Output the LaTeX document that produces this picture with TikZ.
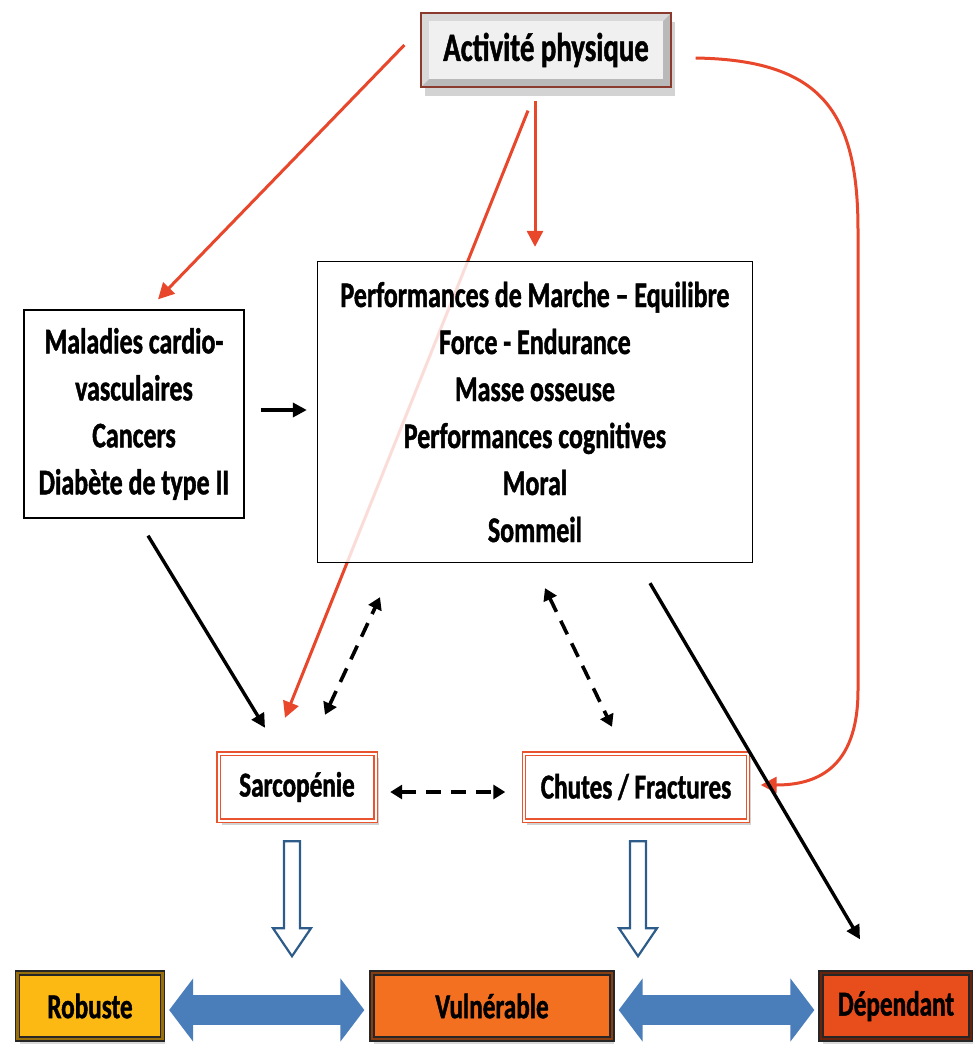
\documentclass[tikz,border=0pt]{standalone}
\usepackage{fontspec}
\setmainfont{Carlito}[FakeStretch=0.72,BoldFeatures={FakeBold=1.2}]
\usetikzlibrary{arrows.meta,calc,shadows,backgrounds}

\definecolor{actred}{HTML}{E8472B}
\definecolor{actborder}{HTML}{8B3A2E}
\definecolor{framered}{HTML}{E9532E}
\definecolor{robcol}{HTML}{FDB913}
\definecolor{vulcol}{HTML}{F37021}
\definecolor{depcol}{HTML}{E84D1C}
\definecolor{bluearr}{HTML}{4A7EBB}
\definecolor{hollowblue}{HTML}{2E5C8A}

\tikzset{
  txtbox/.style={draw, line width=1.3pt, fill=white, align=center,
    font=\bfseries\fontsize{36}{47}\selectfont, inner sep=0pt},
  framebox/.style={draw=framered, double=white, double distance=2pt, line width=1.4pt,
    fill=white, minimum height=67pt, font=\bfseries\fontsize{35}{38}\selectfont,
    drop shadow={shadow xshift=3pt, shadow yshift=-4pt, opacity=0.35}},
  statebox/.style={draw=black!85, line width=1.3pt, double distance=2.5pt,
    minimum height=66pt, font=\bfseries\fontsize{35}{38}\selectfont,
    drop shadow={shadow xshift=2pt, shadow yshift=-5pt, opacity=0.3}},
  redarr/.style={actred, line width=3pt, -{Triangle[length=16pt,width=16pt]}},
  blackarr/.style={black, line width=3.4pt, -{Triangle[length=14pt,width=14pt]}},
  dasharr/.style={black, line width=3.6pt, dash pattern=on 15pt off 10pt,
    {Triangle[length=12pt,width=14pt]}-{Triangle[length=12pt,width=14pt]}},
  bluearrow/.style={bluearr, line width=30pt,
    {Triangle[length=24pt,width=62pt]}-{Triangle[length=24pt,width=62pt]}},
  hollow/.style={draw=hollowblue, line width=2.2pt, fill=white, line join=miter}
}

\begin{document}
\begin{tikzpicture}[x=1pt,y=-1pt]
  \useasboundingbox (0,0) rectangle (973,1053);

  % top box
  \node (act) [draw=actborder, line width=1.2pt, fill=gray!55,
    minimum width=250pt, minimum height=74pt,
    font=\bfseries\fontsize{40}{44}\selectfont,
    drop shadow={shadow xshift=4pt, shadow yshift=-9pt, opacity=0.35},
    path picture={
      \fill[gray!30] (path picture bounding box.south west)
        -- (path picture bounding box.north west)
        -- (path picture bounding box.north east)
        -- ([shift={(-8pt,-8pt)}]path picture bounding box.north east)
        -- ([shift={(8pt,-8pt)}]path picture bounding box.north west)
        -- ([shift={(8pt,8pt)}]path picture bounding box.south west) -- cycle;
      \fill[gray!12] ([shift={(8pt,8pt)}]path picture bounding box.south west)
        rectangle ([shift={(-8pt,-8pt)}]path picture bounding box.north east);
    }] at (546,50) {Activité physique};

  % boxes
  \node (mal) [txtbox, minimum width=220pt, minimum height=208pt] at (134,414)
    {Maladies cardio-\\vasculaires\\Cancers\\Diabète de type II};
  \node (mid) [txtbox, minimum width=435pt, minimum height=301pt,
    fill opacity=0.82, text opacity=1] at (535,412)
    {Performances de Marche -- Equilibre\\Force - Endurance\\Masse osseuse\\
     Performances cognitives\\Moral\\Sommeil};

  \node (sar) [framebox, minimum width=157pt] at (297,787) {Sarcopénie};
  \node (chu) [framebox, minimum width=224pt] at (636,787) {Chutes / Fractures};

  \node (rob) [statebox, fill=robcol, double=robcol!60!black, minimum width=145pt] at (90,1006) {Robuste};
  \node (vul) [statebox, fill=vulcol, double=vulcol!55!black, minimum width=240pt] at (492,1006) {Vulnérable};
  \node (dep) [statebox, fill=depcol, double=depcol!45!black, minimum width=150pt] at (896,1006) {Dépendant};

  % red arrows from the activity box
  \begin{pgfonlayer}{background}
    \draw[redarr] ($(act.south)+(-18,23)$) -- ($(sar.north)+(-12,-35)$);
  \end{pgfonlayer}
  \draw[redarr] ($(act.west)+(-16,-5)$) -- ($(mal.north)+(24,-10)$);
  \draw[redarr] ($(act.south)+(-11,13)$) -- ($(mid.north)+(0,-14)$);
  \draw[redarr] ($(act.east)+(24,8)$) .. controls (820,60) and (858,110) .. (858,230)
    -- (858,690) .. controls (858,770) and (815,785) .. ($(chu.east)+(12,-2)$);

  % black arrows
  \draw[blackarr] ($(mal.south)+(14,17)$) -- ($(sar.north)+(-32,-25)$);
  \draw[blackarr] ($(mal.east)+(16,-4)$) -- ($(mid.west)+(-10,-2)$);
  \draw[blackarr] ($(mid.south)+(115,20)$) -- ($(dep.north)+(-36,-33)$);

  % dashed links
  \draw[dasharr] ($(sar.north)+(28,-38)$) -- ($(mid.south)+(-155,34)$);
  \draw[dasharr] ($(mid.south)+(10,25)$) -- ($(chu.north)+(-24,-26)$);
  \draw[dasharr] ($(sar.east)+(14,5)$) -- ($(chu.west)+(-18,5)$);

  % hollow arrows
  \draw[hollow] ($(sar.south)+(-13,20)$) -- ++(16,0) -- ++(0,87) -- ++(11,0)
    -- ++(-19,28) -- ++(-19,-28) -- ++(11,0) -- cycle;
  \draw[hollow] ($(chu.south)+(-6,20)$) -- ++(16,0) -- ++(0,87) -- ++(11,0)
    -- ++(-19,28) -- ++(-19,-28) -- ++(11,0) -- cycle;

  % blue double arrows
  \draw[bluearrow] ($(rob.east)+(6,4)$) -- ($(vul.west)+(-7,4)$);
  \draw[bluearrow] ($(vul.east)+(6,4)$) -- ($(dep.west)+(-6,4)$);
\end{tikzpicture}
\end{document}
